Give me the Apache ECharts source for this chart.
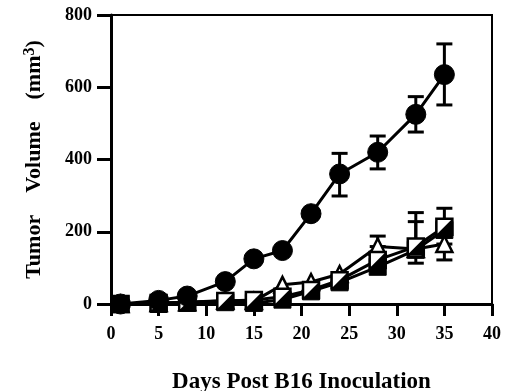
<!DOCTYPE html>
<html><head><meta charset="utf-8">
<script src="https://cdn.jsdelivr.net/npm/echarts@6/dist/echarts.min.js"></script>
<style>html,body{margin:0;padding:0;background:#fff}#c{width:509px;height:391px}</style>
</head><body><div id="c"></div>
<script>
var days = [1, 5, 8, 12, 15, 18, 21, 24, 28, 32, 35];
var circleVals = [0, 10, 22, 62, 125, 148, 250, 360, 420, 525, 635];
var halfSquareVals = [0, 3, 5, 8, 11, 20, 39, 66, 122, 159, 214];
var triangleVals = [0, 3, 5, 10, 8, 53, 61, 83, 159, 152, 166];
var filledSquareVals = [0, 0, 3, 5, 3, 12, 35, 60, 103, 150, 205];
// error bars: [day, low, high]
var circleErr = [[24, 299, 417], [28, 374, 465], [32, 476, 574], [35, 551, 720]];
var halfSquareErr = [[15, -14, 11], [32, 113, 253], [35, 214, 265]];
var triangleErr = [[28, 159, 188], [32, 152, 228], [35, 122, 166]];
var xTicks = [0, 5, 10, 15, 20, 25, 30, 35, 40];
var yTicks = [0, 200, 400, 600, 800];

function pairs(v) { return days.map(function (d, i) { return [d, v[i]]; }); }
var font = 'Liberation Serif';

function errSeries(data) {
  return {
    type: 'custom', z: 1, clip: false, data: data,
    renderItem: function (params, api) {
      var x = api.value(0), lo = api.value(1), hi = api.value(2);
      var a = api.coord([x, lo]), b = api.coord([x, hi]);
      var w = 8;
      var st = { stroke: '#000', lineWidth: 3 };
      return { type: 'group', children: [
        { type: 'line', shape: { x1: a[0], y1: a[1], x2: b[0], y2: b[1] }, style: st },
        { type: 'line', shape: { x1: a[0] - w, y1: a[1], x2: a[0] + w, y2: a[1] }, style: st },
        { type: 'line', shape: { x1: b[0] - w, y1: b[1], x2: b[0] + w, y2: b[1] }, style: st }
      ]};
    }
  };
}

var chart = echarts.init(document.getElementById('c'), null, { renderer: 'canvas' });
chart.setOption({
  animation: false,
  backgroundColor: '#fff',
  grid: { left: 111, right: 17, top: 15, bottom: 87, show: true, borderColor: '#000', borderWidth: 2,
          containLabel: false, outerBoundsMode: 'none' },
  xAxis: {
    type: 'value', min: xTicks[0], max: xTicks[xTicks.length - 1], interval: 5,
    name: 'Days Post B16 Inoculation', nameLocation: 'middle', nameGap: 67,
    nameTextStyle: { fontFamily: font, fontWeight: 'bold', fontSize: 23, color: '#000' },
    axisLine: { lineStyle: { color: '#000', width: 3 } },
    axisTick: { length: 12, lineStyle: { color: '#000', width: 3 } },
    axisLabel: { fontFamily: font, fontWeight: 'bold', fontSize: 18, color: '#000', margin: 21 },
    splitLine: { show: false }
  },
  yAxis: {
    type: 'value', min: yTicks[0], max: yTicks[yTicks.length - 1], interval: 200,
    name: '{a|Tumor    Volume    (mm}{s|3}{a|)}', nameLocation: 'middle', nameGap: 64, nameRotate: 90,
    nameTextStyle: {
      rich: {
        a: { fontFamily: font, fontWeight: 'bold', fontSize: 22, color: '#000' },
        s: { fontFamily: font, fontWeight: 'bold', fontSize: 16, color: '#000', verticalAlign: 'top', padding: [0, 0, 9, 0] }
      }
    },
    axisLine: { lineStyle: { color: '#000', width: 3 } },
    axisTick: { length: 14, lineStyle: { color: '#000', width: 3 } },
    axisLabel: { fontFamily: font, fontWeight: 'bold', fontSize: 18, color: '#000', margin: 19 },
    splitLine: { show: false }
  },
  series: [
    errSeries(halfSquareErr),
    errSeries(triangleErr),
    errSeries(circleErr),
    {
      type: 'line', data: pairs(filledSquareVals), symbol: 'rect', symbolSize: 17, z: 2,
      lineStyle: { color: '#000', width: 3 }, itemStyle: { color: '#000', borderColor: '#000', borderWidth: 1 }
    },
    {
      type: 'line', data: pairs(triangleVals), symbol: 'triangle', symbolSize: 16, z: 3,
      lineStyle: { color: '#000', width: 3 }, itemStyle: { color: '#fff', borderColor: '#000', borderWidth: 2.5 }
    },
    {
      type: 'line', data: pairs(halfSquareVals), symbol: 'rect', symbolSize: 16, z: 4,
      lineStyle: { color: '#000', width: 3 }, itemStyle: { color: '#fff', borderColor: '#000', borderWidth: 2.5 }
    },
    {
      type: 'scatter', data: pairs(halfSquareVals), symbol: 'path://M10,0 L10,10 L0,10 Z', symbolSize: 16, z: 4,
      itemStyle: { color: '#000', opacity: 1 }
    },
    {
      type: 'line', data: pairs(circleVals), symbol: 'circle', symbolSize: 20, z: 5,
      lineStyle: { color: '#000', width: 3 }, itemStyle: { color: '#000', borderColor: '#000' }
    }
  ]
});
</script></body></html>
